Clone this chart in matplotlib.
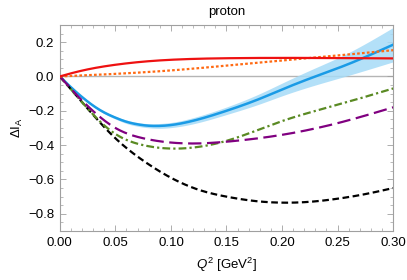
import numpy as np
import matplotlib
matplotlib.use("Agg")
import matplotlib.pyplot as plt
from matplotlib.ticker import MultipleLocator

# values
q2 = [0.0, 0.01, 0.02, 0.03, 0.04, 0.05, 0.06, 0.07, 0.08, 0.09, 0.10, 0.12, 0.15, 0.18, 0.20, 0.23, 0.255, 0.30]
blue = [0.0, -0.063, -0.12, -0.17, -0.21, -0.24, -0.264, -0.279, -0.287, -0.288, -0.283, -0.258, -0.2, -0.13, -0.076, 0.0, 0.06, 0.185]
blue_err = [0.0, 0.002, 0.004, 0.005, 0.007, 0.008, 0.01, 0.011, 0.012, 0.014, 0.015, 0.018, 0.022, 0.03, 0.037, 0.05, 0.063, 0.1]

q2_red = [0.0, 0.01, 0.025, 0.05, 0.075, 0.1, 0.15, 0.2, 0.25, 0.3]
red = [0.0, 0.018, 0.041, 0.068, 0.086, 0.097, 0.106, 0.108, 0.107, 0.105]

q2_orange = [0.0, 0.05, 0.1, 0.15, 0.2, 0.25, 0.3]
orange = [0.0, 0.015, 0.035, 0.063, 0.093, 0.122, 0.153]

q2_k = [0.0, 0.02, 0.035, 0.05, 0.075, 0.1, 0.125, 0.15, 0.175, 0.2, 0.225, 0.25, 0.275, 0.3]
black = [0.0, -0.15, -0.26, -0.36, -0.49, -0.59, -0.66, -0.70, -0.725, -0.735, -0.73, -0.712, -0.685, -0.65]

q2_g = [0.0, 0.02, 0.035, 0.05, 0.075, 0.1, 0.125, 0.15, 0.2, 0.25, 0.3]
green = [0.0, -0.15, -0.255, -0.335, -0.40, -0.42, -0.41, -0.375, -0.26, -0.165, -0.07]
purple = [0.0, -0.14, -0.23, -0.30, -0.36, -0.385, -0.39, -0.38, -0.34, -0.272, -0.18]


def spline(x, y, n=300):
    # natural cubic spline through the read points, just for smooth drawing
    x = np.asarray(x, float)
    y = np.asarray(y, float)
    h = np.diff(x)
    m = len(x)
    A = np.zeros((m, m))
    b = np.zeros(m)
    A[0, 0] = A[-1, -1] = 1.0
    for i in range(1, m - 1):
        A[i, i - 1] = h[i - 1]
        A[i, i] = 2 * (h[i - 1] + h[i])
        A[i, i + 1] = h[i]
        b[i] = 3 * ((y[i + 1] - y[i]) / h[i] - (y[i] - y[i - 1]) / h[i - 1])
    c = np.linalg.solve(A, b)
    xs = np.linspace(x[0], x[-1], n)
    k = np.clip(np.searchsorted(x, xs, side="right") - 1, 0, m - 2)
    dx = xs - x[k]
    bb = (y[k + 1] - y[k]) / h[k] - h[k] * (2 * c[k] + c[k + 1]) / 3
    dd = (c[k + 1] - c[k]) / (3 * h[k])
    return xs, y[k] + bb * dx + c[k] * dx ** 2 + dd * dx ** 3


plt.rcParams["font.family"] = ["Liberation Sans", "DejaVu Sans"]
plt.rcParams["mathtext.fontset"] = "custom"
plt.rcParams["mathtext.rm"] = "Liberation Sans"
plt.rcParams["mathtext.it"] = "Liberation Sans:italic"

fig = plt.figure(figsize=(4.07, 2.8), dpi=100)
ax = fig.add_axes([0.147, 0.175, 0.819, 0.736])

ax.axhline(0, color="#b5b5b5", lw=1.0, zorder=1)

x, lo = spline(q2, np.array(blue) - np.array(blue_err))
_, hi = spline(q2, np.array(blue) + np.array(blue_err))
ax.fill_between(x, lo, hi, color="#a6dbf7", alpha=0.85, lw=0, zorder=2)
ax.plot(*spline(q2, blue), color="#1a9be6", lw=1.8, zorder=3)

ax.plot(*spline(q2_k, black), color="black", lw=1.6, ls=(0, (3, 1.6)), zorder=3)
ax.plot(*spline(q2_g, green), color="#5a8a23", lw=1.6, ls=(0, (3.5, 1.4, 1, 1.4)), zorder=3)
ax.plot(*spline(q2_g, purple), color="#800080", lw=1.6, ls=(0, (6, 2.5)), zorder=3)
ax.plot(*spline(q2_orange, orange), color="#ff6a13", lw=1.6, ls=(0, (1.2, 1.0)), zorder=3)
ax.plot(*spline(q2_red, red), color="#ee1111", lw=1.6, zorder=4)

ax.set_xlim(0, 0.3)
ax.set_ylim(-0.9, 0.3)
ax.xaxis.set_major_locator(MultipleLocator(0.05))
ax.xaxis.set_minor_locator(MultipleLocator(0.01))
ax.yaxis.set_major_locator(MultipleLocator(0.2))
ax.yaxis.set_minor_locator(MultipleLocator(0.05))
ax.xaxis.set_major_formatter(plt.FormatStrFormatter("%.2f"))
ax.yaxis.set_major_formatter(plt.FuncFormatter(lambda v, p: f"{v:.1f}".replace("-", "\u2212")))
ax.tick_params(which="both", direction="in", top=True, right=True, color="#a0a0a0", labelsize=9.5, pad=4)
ax.tick_params(which="major", length=4, width=0.6)
ax.tick_params(which="minor", length=2, width=0.5)
for s in ax.spines.values():
    s.set_color("#a0a0a0")
    s.set_linewidth(0.8)

ax.set_title("proton", fontsize=9.5, pad=7)
ax.set_xlabel(r"$Q^2$ [GeV$^2$]", fontsize=9.5, labelpad=5)
ax.set_ylabel(r"$\Delta\mathrm{I}_\mathrm{A}$", fontsize=9.5, labelpad=2)

fig.savefig("out.png", dpi=100)
